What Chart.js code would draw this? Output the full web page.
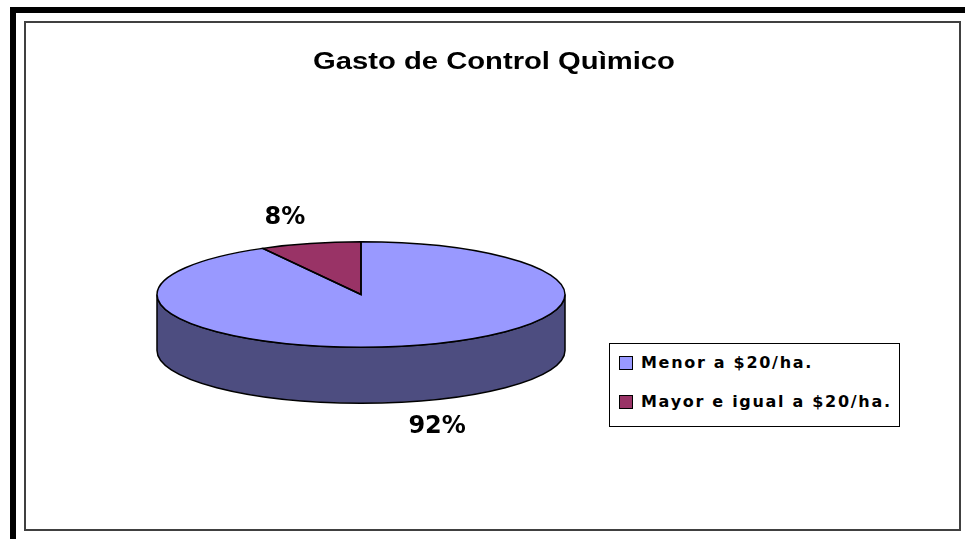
<!DOCTYPE html>
<html>
<head>
<meta charset="utf-8">
<script src="https://cdn.jsdelivr.net/npm/chart.js@4.4.1/dist/chart.umd.min.js"></script>
<style>
  body{margin:0;background:#fff;width:965px;height:539px;overflow:hidden;position:relative;font-family:"Liberation Sans",Arial,sans-serif}
  #outer{position:absolute;left:10px;top:7px;width:955px;height:532px;border-top:6px solid #000;border-left:6px solid #000;box-sizing:border-box}
  #frame{position:absolute;left:24px;top:21px;width:937px;height:510px;border:2px solid #404040;box-sizing:border-box}
  #title{position:absolute;left:294px;width:400px;top:48px;text-align:center;font-weight:bold;font-size:23px;color:#000;transform:scaleX(1.27);transform-origin:center}
  #chart{position:absolute;left:0;top:0}
  #legend{position:absolute;left:609px;top:343px;width:291px;height:84px;border:1px solid #000;box-sizing:border-box;background:#fff;
    font-family:"Comic Sans MS","DejaVu Sans",sans-serif;font-weight:bold;font-size:16px;letter-spacing:1.7px}
  .item{position:absolute;left:9px;display:flex;align-items:center;white-space:nowrap}
  .sw{width:12px;height:12px;border:1px solid #000;margin-right:8px}
</style>
</head>
<body>
<div id="outer"></div>
<div id="frame"></div>
<canvas id="chart" width="965" height="539"></canvas>
<div id="title"></div>
<div id="legend"></div>
<script>
const titleText = 'Gasto de Control Quìmico';
const categories = ['Menor a $20/ha.', 'Mayor e igual a $20/ha.'];
const values = [92, 8];
const colors = ['#9999FF', '#993366'];

const tilt = 0.258;   // vertical squash of the pie
const depth = 56;     // height of the 3D wall

document.getElementById('title').textContent = titleText;

const leg = document.getElementById('legend');
categories.forEach((c, i) => {
  const d = document.createElement('div');
  d.className = 'item';
  d.style.top = (9 + i * 39) + 'px';
  d.innerHTML = `<span class="sw" style="background:${colors[i]}"></span><span></span>`;
  d.lastChild.textContent = c;
  leg.appendChild(d);
});

function darken(hex, f){
  const n = parseInt(hex.slice(1), 16);
  const r = Math.round(((n >> 16) & 255) * f), g = Math.round(((n >> 8) & 255) * f), b = Math.round((n & 255) * f);
  return `rgb(${r},${g},${b})`;
}

const pie3d = {
  id: 'pie3d',
  beforeDatasetsDraw(chart){
    const ctx = chart.ctx;
    const arcs = chart.getDatasetMeta(0).data;
    ctx.save();
    // side wall, front half only (angles 0..PI)
    arcs.forEach((a, i) => {
      const rx = a.outerRadius, ry = rx * tilt, cx = a.x, cy = a.y;
      for (let k = -1; k <= 1; k++) {
        const lo = Math.max(a.startAngle, 0 + k * 2 * Math.PI);
        const hi = Math.min(a.endAngle, Math.PI + k * 2 * Math.PI);
        if (hi <= lo) continue;
        ctx.beginPath();
        ctx.ellipse(cx, cy, rx, ry, 0, lo, hi);
        ctx.lineTo(cx + rx * Math.cos(hi), cy + ry * Math.sin(hi) + depth);
        ctx.ellipse(cx, cy + depth, rx, ry, 0, hi, lo, true);
        ctx.closePath();
        ctx.fillStyle = darken(colors[i], 0.5);
        ctx.fill();
        ctx.lineWidth = 1.5;
        ctx.strokeStyle = '#000';
        ctx.stroke();
      }
    });
    const a0 = arcs[0];
    ctx.translate(a0.x, a0.y);
    ctx.scale(1, tilt);
    ctx.translate(-a0.x, -a0.y);
  },
  afterDatasetsDraw(chart){
    const ctx = chart.ctx;
    ctx.restore();
    const arcs = chart.getDatasetMeta(0).data;
    ctx.save();
    ctx.lineWidth = 1.5;
    ctx.strokeStyle = '#000';
    arcs.forEach(a => {
      const rx = a.outerRadius, ry = rx * tilt;
      ctx.beginPath();
      ctx.moveTo(a.x, a.y);
      ctx.ellipse(a.x, a.y, rx, ry, 0, a.startAngle, a.endAngle);
      ctx.closePath();
      ctx.stroke();
    });
    // percentage labels
    const total = values.reduce((s, v) => s + v, 0);
    ctx.fillStyle = '#000';
    ctx.font = 'bold 24px "Comic Sans MS", "DejaVu Sans", sans-serif';
    ctx.textAlign = 'center';
    ctx.textBaseline = 'middle';
    arcs.forEach((a, i) => {
      const mid = (a.startAngle + a.endAngle) / 2;
      const rx = a.outerRadius * 1.5, ry = a.outerRadius * tilt * 1.5;
      let x = a.x + rx * Math.cos(mid);
      let y = a.y + ry * Math.sin(mid);
      if (Math.sin(mid) > 0) y += depth;
      ctx.fillText(Math.round(values[i] / total * 100) + '%', x, y);
    });
    ctx.restore();
  }
};

new Chart(document.getElementById('chart'), {
  type: 'pie',
  data: {
    labels: categories,
    datasets: [{ data: values, backgroundColor: colors, borderWidth: 0 }]
  },
  options: {
    responsive: false,
    animation: false,
    rotation: 0,
    layout: { padding: { left: 157, right: 400, top: 90, bottom: 40 } },
    plugins: { legend: { display: false }, title: { display: false }, tooltip: { enabled: false } }
  },
  plugins: [pie3d]
});
</script>
</body>
</html>
